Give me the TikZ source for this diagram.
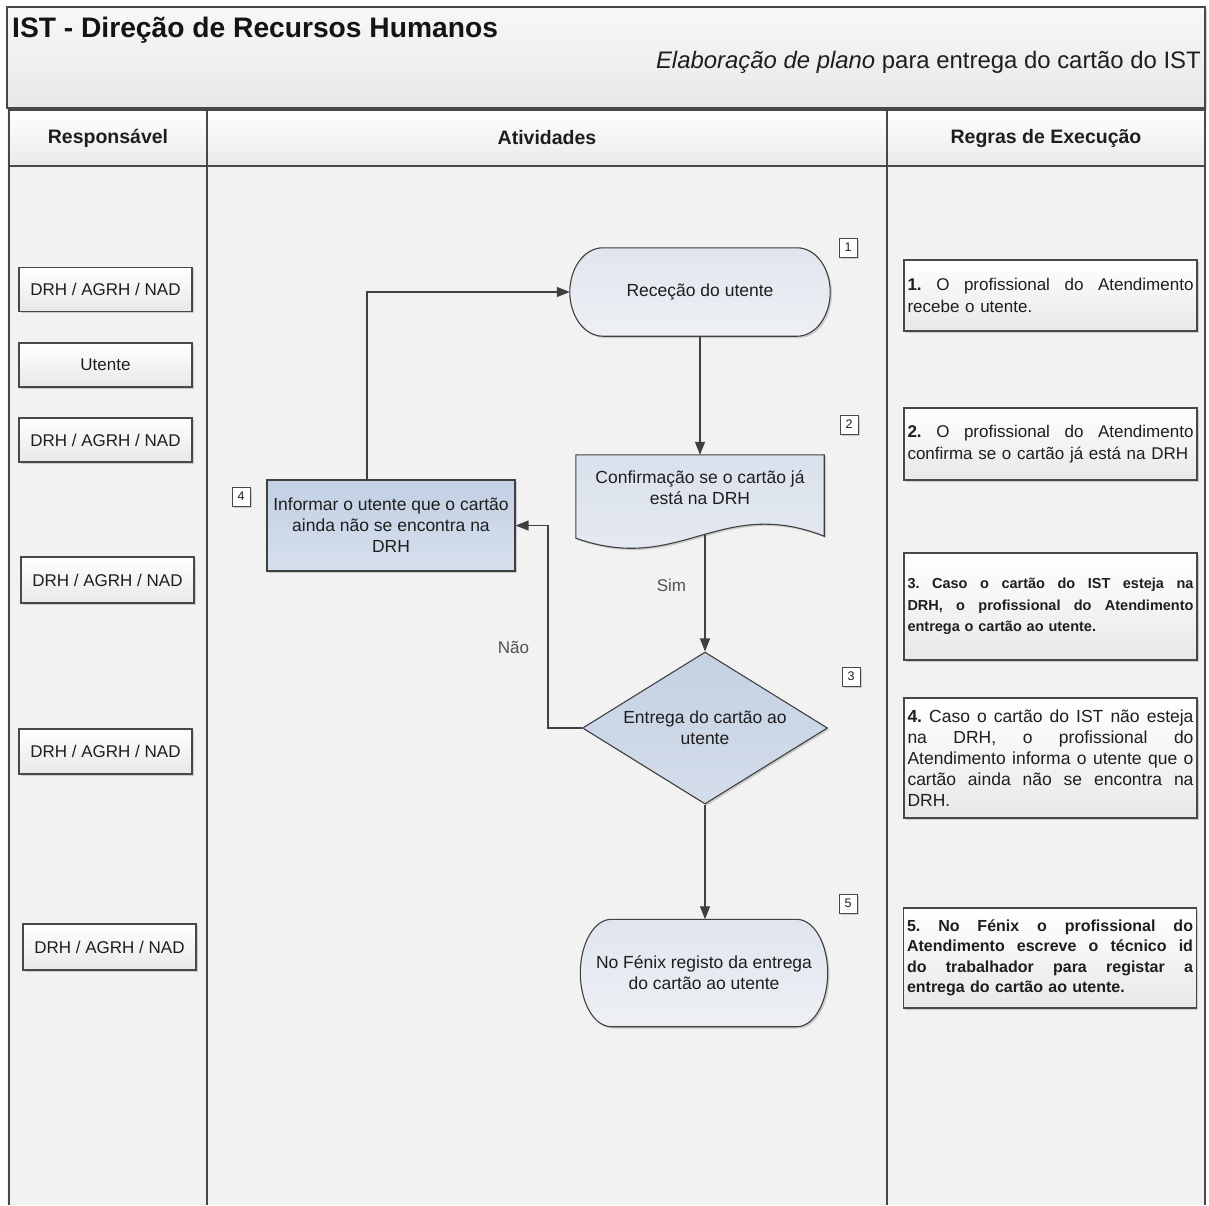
\documentclass[tikz,border=0pt]{standalone}
\usepackage{fontspec}
\setmainfont{Liberation Sans}
\usetikzlibrary{shapes.geometric,arrows.meta,shadows,calc,backgrounds}

\definecolor{pagebg}{RGB}{242,242,242}
\definecolor{framec}{RGB}{72,72,72}
\definecolor{linec}{RGB}{64,64,64}
\definecolor{textc}{RGB}{30,30,30}
\definecolor{panelB}{RGB}{232,232,232}
\definecolor{headB}{RGB}{234,234,234}
\definecolor{stadA}{RGB}{224,229,238}
\definecolor{stadB}{RGB}{238,240,244}
\definecolor{docA}{RGB}{218,225,236}
\definecolor{docB}{RGB}{232,236,242}
\definecolor{diaA}{RGB}{196,209,227}
\definecolor{diaB}{RGB}{212,221,234}
\definecolor{infA}{RGB}{194,208,228}
\definecolor{infB}{RGB}{214,223,236}

\newcommand\setfs[2]{\fontsize{#1}{#2}\selectfont}
% one justified line of a rule text, stretched to the full column
\newcommand\jline[1]{\makebox[286pt][s]{\spaceskip=.28em plus 1fil\xspaceskip=.28em plus 1fil #1}\\}
% terminator outline with half-elliptic ends around node #1 (#2 = end depth, #3 = half height)
\newcommand\terminaloutline[3]{%
  \path[termshape]
    ($(#1.north west)+(#2,0)$) -- ($(#1.north east)+(-#2,0)$)
    .. controls ($(#1.north east)+({-0.4477*#2},0)$) and ($(#1.east)+(0,{-0.5523*#3})$) .. (#1.east)
    .. controls ($(#1.east)+(0,{0.5523*#3})$) and ($(#1.south east)+({-0.4477*#2},0)$) .. ($(#1.south east)+(-#2,0)$)
    -- ($(#1.south west)+(#2,0)$)
    .. controls ($(#1.south west)+({0.4477*#2},0)$) and ($(#1.west)+(0,{0.5523*#3})$) .. (#1.west)
    .. controls ($(#1.west)+(0,{-0.5523*#3})$) and ($(#1.north west)+({0.4477*#2},0)$) .. cycle;}

\tikzset{
  frame/.style={draw=framec, line width=1.4pt},
  softshadow/.style={drop shadow={shadow xshift=1.8pt, shadow yshift=-1.8pt, opacity=0.28, fill=black!60}},
  panel/.style={rectangle, draw=framec, line width=1.2pt, top color=white, bottom color=panelB, softshadow, text=textc},
  header/.style={rectangle, draw=framec, line width=1.3pt, top color=white, bottom color=headB, inner sep=0pt,
    minimum height=56pt, font=\setfs{19.5}{22}\bfseries, text=textc},
  respbox/.style={panel, minimum width=173pt, minimum height=44pt, inner sep=0pt, font=\setfs{17}{20}},
  rulebox/.style={panel, minimum width=293pt, text width=286pt, inner xsep=3.5pt, inner ysep=0pt, align=left},
  numbox/.style={rectangle, draw=framec, line width=1pt, fill=white, minimum width=18pt, minimum height=19pt,
    inner sep=0pt, font=\setfs{12.5}{12.5}, text=textc, softshadow},
  flowfont/.style={font=\setfs{17.5}{21}, text=textc, align=center},
  terminal/.style={rectangle, flowfont, inner sep=0pt},
  termshape/.style={draw=linec, line width=1.1pt, top color=stadA, bottom color=stadB, softshadow},
  decision/.style={diamond, aspect=1.6, draw=linec, line width=1.1pt, top color=diaA, bottom color=diaB,
    softshadow, flowfont, inner sep=0pt, minimum width=245pt, minimum height=152pt},
  process/.style={rectangle, draw=linec, line width=1.1pt, top color=infA, bottom color=infB,
    softshadow, flowfont, inner sep=0pt},
  arrow/.style={draw=linec, line width=1.2pt, -{Triangle[length=13pt,width=10pt]}},
  edgelabel/.style={font=\setfs{17}{20}, text=black!68}
}

\begin{document}
\begin{tikzpicture}[x=1pt,y=-1pt]
\useasboundingbox (0,0) rectangle (1209,1205);

% page
\begin{scope}[on background layer]
  \fill[white] (0,0) rectangle (1209,1205);
  \fill[pagebg] (7,7) rectangle (1205,1205);
\end{scope}

% title band
\node[rectangle, draw=framec, line width=1.4pt, top color=white!97!black, bottom color=black!9,
      minimum width=1198pt, minimum height=101pt, inner sep=0pt, softshadow] (titlebox) at (606,57.5) {};
\node[anchor=base west, inner sep=0pt, font=\setfs{28.2}{30}\bfseries, text=black!92] (title) at (12,37)
  {IST - Direção de Recursos Humanos};
\node[anchor=base east, inner sep=0pt, font=\setfs{23.9}{26}, text=textc] (subtitle) at (1201,68)
  {\textit{Elaboração de plano} para entrega do cartão do IST};

% column headers
\node[header, minimum width=198pt] (hresp) at (108,138) {Responsável};
\node[header, minimum width=680pt] (hact) at (547,138) {Atividades};
\node[header, minimum width=318pt] (hrule) at (1046,138) {Regras de Execução};

% column rules
\draw[frame] (9,166) -- (9,1205);
\draw[frame] (207,166) -- (207,1205);
\draw[frame] (887,166) -- (887,1205);
\draw[frame] (1205,166) -- (1205,1205);

% responsible units
\node[respbox] (r1) at (105.5,289.5) {DRH / AGRH / NAD};
\node[respbox] (r2) at (105.5,365) {Utente};
\node[respbox] (r3) at (105.5,440) {DRH / AGRH / NAD};
\node[respbox, minimum height=46pt] (r4) at (107.5,580) {DRH / AGRH / NAD};
\node[respbox, minimum height=45pt] (r5) at (105.5,751.5) {DRH / AGRH / NAD};
\node[respbox, minimum height=46pt] (r6) at (109.5,947) {DRH / AGRH / NAD};

% execution rules
\node[rulebox, minimum height=71pt, font=\setfs{17}{22}] (x1) at (1050.5,295.5)
  {\jline{\textbf{1.} O profissional do Atendimento}recebe o utente.};
\node[rulebox, minimum height=72pt, font=\setfs{17}{21.5}] (x2) at (1050.5,444)
  {\jline{\textbf{2.} O profissional do Atendimento}confirma se o cartão já está na DRH};
\node[rulebox, minimum height=107pt, font=\setfs{14.5}{21.5}\bfseries] (x3) at (1050.5,606.5)
  {\jline{3. Caso o cartão do IST esteja na}\jline{DRH, o profissional do Atendimento}entrega o cartão ao utente.};
\node[rulebox, minimum height=120pt, font=\setfs{17.5}{21}] (x4) at (1050.5,758)
  {\jline{\textbf{4.} Caso o cartão do IST não esteja}\jline{na DRH, o profissional do}\jline{Atendimento informa o utente que o}\jline{cartão ainda não se encontra na}DRH.};
\node[rulebox, minimum height=100pt, font=\setfs{16}{20.5}\bfseries] (x5) at (1050,958)
  {\jline{5. No Fénix o profissional do}\jline{Atendimento escreve o técnico id}\jline{do trabalhador para registar a}entrega do cartão ao utente.};

% activities
\node[terminal, minimum width=260pt, minimum height=88pt] (rec) at (700,292) {Receção do utente};

\node[flowfont, inner sep=0pt, minimum width=248pt, minimum height=66pt] (doc) at (700,488)
  {Confirmação se o cartão já\\está na DRH};
\coordinate (docout) at ($(doc.south)+(5,13)$);

\node[decision] (dia) at (705,728) {Entrega do cartão ao\\utente};
\node[process, minimum width=248pt, minimum height=91pt] (inf) at (391,525.5)
  {Informar o utente que o cartão\\ainda não se encontra na\\DRH};
\node[terminal, minimum width=247pt, minimum height=107pt] (fin) at (704,973)
  {No Fénix registo da entrega\\do cartão ao utente};

% outlines drawn behind the texts
\begin{scope}[on background layer]
  \terminaloutline{rec}{33}{44}
  \terminaloutline{fin}{31}{53.5}
  \path[draw=linec, line width=1.1pt, top color=docA, bottom color=docB, softshadow]
    (doc.north west) -- (doc.north east) -- ($(doc.south east)+(0,15)$)
    .. controls ($(doc.south)+(20,-26)$) and ($(doc.south)+(-20,54)$) .. ($(doc.south west)+(0,17)$) -- cycle;
\end{scope}

% step numbers
\node[numbox] (n1) at (848,247.5) {1};
\node[numbox] (n2) at (849,424.5) {2};
\node[numbox] (n3) at (851,676.5) {3};
\node[numbox] (n4) at (241,496.5) {4};
\node[numbox] (n5) at (848,903.5) {5};

% flow
\draw[arrow] (rec.south) -- (doc.north);
\draw[arrow] (docout) -- node[edgelabel, pos=0.44, left=15pt] (sim) {Sim} (docout |- dia.north);
\draw[arrow] (dia.west) -- ++(-34,0) coordinate (nbend) |- node[edgelabel, pos=0.2, left=15pt] (nao) {Não} (inf.east);
\draw[arrow] ($(inf.north)+(-24,0)$) |- (rec.west);
\draw[arrow] (dia.south) -- (dia.south |- fin.north);

\end{tikzpicture}
\end{document}
